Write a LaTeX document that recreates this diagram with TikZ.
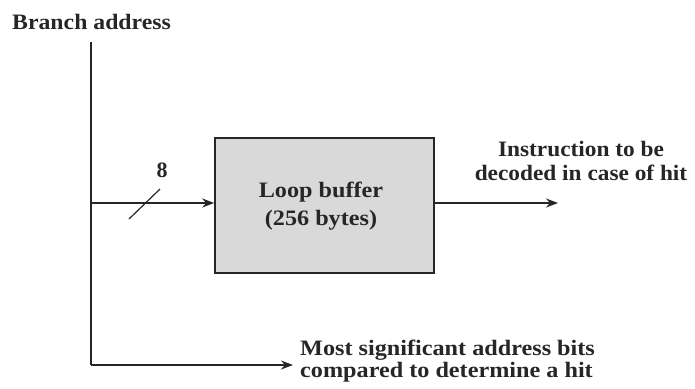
\documentclass[tikz,border=0pt]{standalone}
\usepackage{fontspec}
\setmainfont{Liberation Serif}
\usetikzlibrary{arrows.meta}
\begin{document}
\begin{tikzpicture}[x=1pt,y=-1pt,
  wire/.style={line width=1.6pt,draw=black!85},
  arr/.style={wire,-{Stealth[length=12pt,width=9pt]}},
  lbl/.style={font=\fontsize{22}{25}\selectfont\bfseries,text=black!85,inner sep=0pt,align=center},
  buf/.style={draw=black!85,line width=1.6pt,fill=gray!30,minimum width=219pt,minimum height=135pt,inner sep=0pt}]
\useasboundingbox (0,0) rectangle (695,388);
\node[lbl,anchor=west,xscale=1.08,transform shape] (ba) at (12,22) {Branch address};
\coordinate (top) at (91,42);
\coordinate (mid) at (91,203);
\coordinate (bot) at (91,365);
\node[buf] (lb) at (324.5,205.5) {};
\node[lbl,align=center,font=\fontsize{22}{28}\selectfont\bfseries,xscale=1.1,transform shape] (lbt) at (321,206) {Loop buffer\\(256 bytes)};
\coordinate (out) at (558,203);
\coordinate (bend) at (293,365);
\node[lbl,align=center,xscale=1.06,transform shape,font=\fontsize{22}{24}\selectfont\bfseries] (inst) at (581,161) {Instruction to be\\decoded in case of hit};
\node[lbl,align=left,anchor=west,xscale=1.1,transform shape,font=\fontsize{22}{22}\selectfont\bfseries] (msb) at (300,361) {Most significant address bits\\compared to determine a hit};
\draw[wire] (top) -- (bot);
\draw[arr] (mid) -- (mid -| lb.west);
\draw[arr] (mid -| lb.east) -- (out);
\draw[arr] (bot) -- (bend);
\coordinate (s1) at (129,219);
\coordinate (s2) at (160,189);
\draw[wire,line width=1.2pt] (s1) -- (s2);
\node[lbl] (eight) at (162,170) {8};
\end{tikzpicture}
\end{document}
